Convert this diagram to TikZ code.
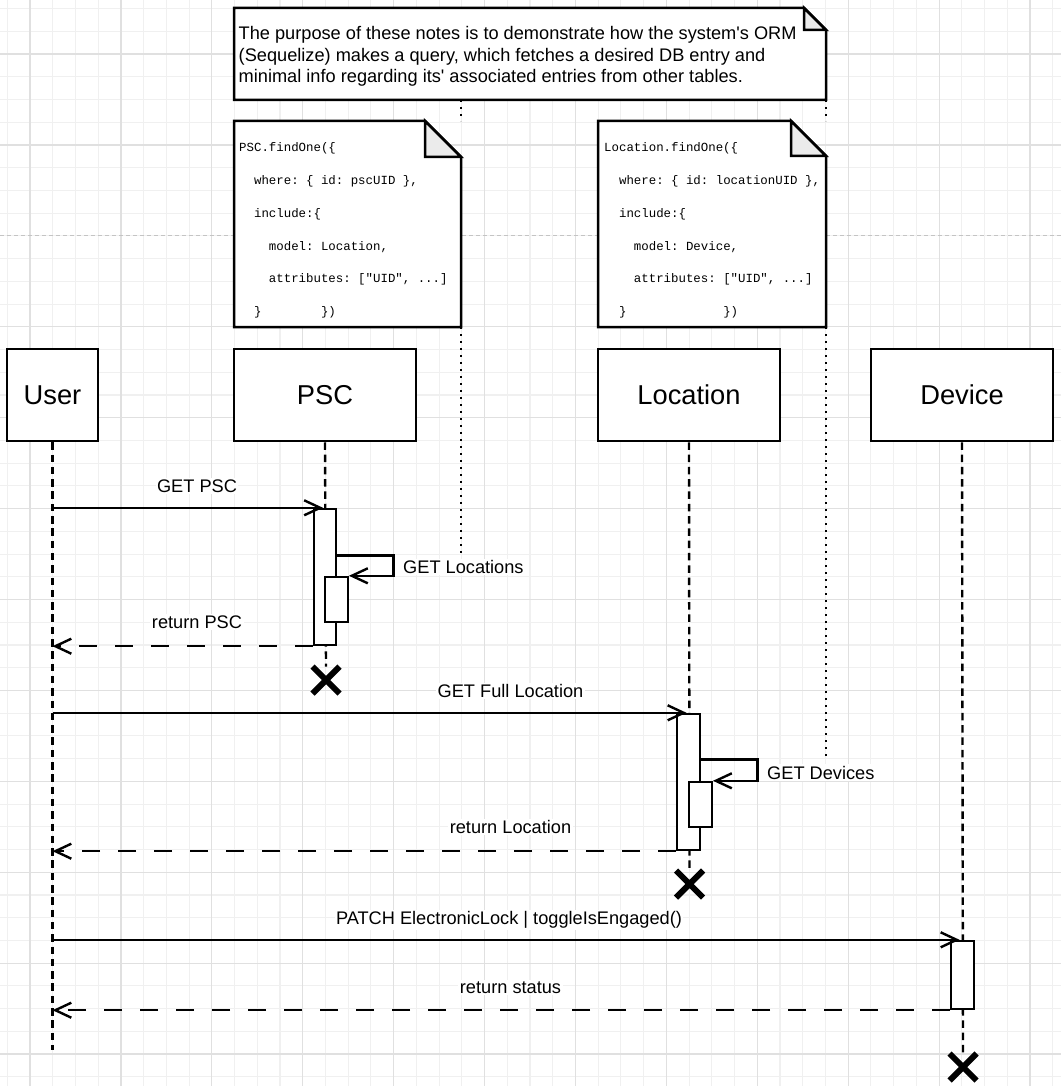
\documentclass[tikz,border=0pt]{standalone}
\usepackage{fontspec}
\newfontfamily\sansf{Liberation Sans}
\newfontfamily\codef{Liberation Mono}
\usetikzlibrary{arrows.meta,shapes.misc}
\definecolor{gminc}{HTML}{F0F0F0}
\definecolor{gmajc}{HTML}{E0E0E0}
\definecolor{gdashc}{HTML}{C4C4C4}
\definecolor{foldc}{HTML}{EBEBEB}
\newcommand\ind[1]{\hspace*{#1\fontcharwd\font`0}}
\begin{document}
\begin{tikzpicture}[x=1pt,y=-1pt,
  gminor/.style={draw=gminc,line width=1.1pt},
  gmajor/.style={draw=gmajc,line width=1.2pt},
  gdash/.style={draw=gdashc,line width=1.1pt,dash pattern=on 4pt off 3pt},
  lifebox/.style={draw,line width=2.5pt,fill=white,minimum width=182,minimum height=92,inner sep=0pt,font=\sansf\fontsize{27.3}{30}\selectfont},
  notebox/.style={draw=none,inner sep=0pt,outer sep=0pt},
  noteline/.style={draw,line width=2.5pt,fill=white,line join=miter},
  notetext/.style={inner sep=0pt,align=left,anchor=west,font=\sansf\frenchspacing\fontsize{18.2}{21.6}\selectfont},
  codetext/.style={inner sep=0pt,align=left,anchor=west,font=\codef\frenchspacing\fontsize{12.4}{32.8}\selectfont},
  notelink/.style={draw,line width=2.5pt,dash pattern=on 2.4pt off 4.6pt},
  lifeline/.style={draw,line width=2.4pt,dash pattern=on 7.5pt off 4.8pt},
  act/.style={draw,fill=white,line width=2.4pt,inner sep=0pt,minimum width=22.5},
  msg/.style={draw,line width=2.4pt,-{Straight Barb[length=16pt,width=15pt]}},
  ret/.style={msg,dash pattern=on 18pt off 18pt},
  lbl/.style={fill=white,inner sep=1.5pt,font=\sansf\fontsize{18.2}{21}\selectfont},
  destroy/.style={cross out,draw,line width=6pt,minimum size=21,inner sep=0pt}
]
\useasboundingbox (0,0) rectangle (1061,1086);
\fill[white] (0,0) rectangle (1061,1086);
% grid
\foreach \i in {0,...,46}{\draw[gminor] ({7.27+22.727*\i},0) -- ++(0,1086);}
\foreach \i in {0,...,47}{\draw[gminor] (0,{8.6+22.727*\i}) -- ++(1061,0);}
\foreach \i in {0,...,11}{\draw[gmajor] ({30+90.91*\i},0) -- ++(0,1086);}
\foreach \i in {0,1,3,4,...,11}{\draw[gmajor] (0,{54+90.91*\i}) -- ++(1061,0);}
\draw[gdash] (0,235.8) -- (1061,235.8);

% notes
\node[notebox,minimum width=592,minimum height=92] (topnote) at (530,54) {};
\draw[noteline] (topnote.north west) -- ([xshift=-22pt]topnote.north east) -- ([yshift=-22pt]topnote.north east) -- (topnote.south east) -- (topnote.south west) -- cycle;
\draw[noteline,fill=foldc] ([xshift=-22pt]topnote.north east) -- ([xshift=-22pt,yshift=-22pt]topnote.north east) -- ([yshift=-22pt]topnote.north east) -- cycle;
\node[notetext] (toptext) at (238.5,56.3) {The purpose of these notes is to demonstrate how the system's ORM\\(Sequelize) makes a query, which fetches a desired DB entry and\\minimal info regarding its' associated entries from other tables.};

\node[notebox,minimum width=227,minimum height=206] (pscnote) at (347.5,224) {};
\draw[noteline] (pscnote.north west) -- ([xshift=-36pt]pscnote.north east) -- ([yshift=-36pt]pscnote.north east) -- (pscnote.south east) -- (pscnote.south west) -- cycle;
\draw[noteline,fill=foldc] ([xshift=-36pt]pscnote.north east) -- ([xshift=-36pt,yshift=-36pt]pscnote.north east) -- ([yshift=-36pt]pscnote.north east) -- cycle;
\node[codetext] (psccode) at (239,230.4) {PSC.findOne(\{\\
\ind{2}where: \{ id: pscUID \},\\
\ind{2}include:\{\\
\ind{4}model: Location,\\
\ind{4}attributes: ["UID", ...]\\
\ind{2}\}\ind{8}\})};

\node[notebox,minimum width=228,minimum height=206] (locnote) at (712,224) {};
\draw[noteline] (locnote.north west) -- ([xshift=-35pt]locnote.north east) -- ([yshift=-35pt]locnote.north east) -- (locnote.south east) -- (locnote.south west) -- cycle;
\draw[noteline,fill=foldc] ([xshift=-35pt]locnote.north east) -- ([xshift=-35pt,yshift=-35pt]locnote.north east) -- ([yshift=-35pt]locnote.north east) -- cycle;
\node[codetext] (loccode) at (604,230.4) {Location.findOne(\{\\
\ind{2}where: \{ id: locationUID \},\\
\ind{2}include:\{\\
\ind{4}model: Device,\\
\ind{4}attributes: ["UID", ...]\\
\ind{2}\}\ind{13}\})};

% participants
\node[lifebox,minimum width=91] (user) at (52.5,395) {User};
\node[lifebox] (psc) at (325,395) {PSC};
\node[lifebox] (loc) at (689,395) {Location};
\node[lifebox] (dev) at (962,395) {Device};

\node[destroy] (pscx) at (326,680) {};
\node[destroy] (locx) at (689.5,884) {};
\node[destroy] (devx) at (963,1067) {};
\coordinate (userend) at (52.5,1050);

% lifelines
\draw[lifeline] (user.south) -- (userend);
\draw[lifeline] (psc.south) -- (pscx.north);
\draw[lifeline] (loc.south) -- (locx.north);
\draw[lifeline] (dev.south) -- (devx.north);

% self-call anchors
\coordinate (pscloop) at (393.5,555.5);
\coordinate (locloop) at (757.5,759.5);

% note links
\draw[notelink] (topnote.south -| pscnote.north east) -- (pscnote.north east);
\draw[notelink] (pscnote.south east) -- ([yshift=2pt]pscnote.south east |- pscloop);
\draw[notelink] (topnote.south east) -- (locnote.north east);
\draw[notelink] (locnote.south east) -- ([yshift=2pt]locnote.south east |- locloop);

% activations
\node[act,minimum height=136] (pscact) at (325,577) {};
\node[act,minimum height=45] (pscact2) at (336.5,599.5) {};
\node[act,minimum height=136] (locact) at (688.5,782) {};
\node[act,minimum height=45] (locact2) at (700.5,804.5) {};
\node[act,minimum height=68] (devact) at (962.5,975) {};

% messages
\draw[msg] (user.south |- pscact.north) -- ([xshift=-2pt]pscact.north);
\draw[msg] (pscact.east |- pscloop) -- (pscloop) |- (pscact2.north east);
\draw[ret] (pscact.south west) -- (user.south |- pscact.south);
\draw[msg] (user.south |- locact.north) -- ([xshift=-2pt]locact.north);
\draw[msg] (locact.east |- locloop) -- (locloop) |- (locact2.north east);
\draw[ret] (locact.south west) -- (user.south |- locact.south);
\draw[msg] (user.south |- devact.north) -- ([xshift=-3pt]devact.north);
\draw[ret] (devact.south west) -- (user.south |- devact.south);

% labels
\node[lbl,anchor=base] (m1) at (197,492.5) {GET PSC};
\node[lbl,anchor=base west] (m2) at (401.5,573.5) {GET Locations};
\node[lbl,anchor=base] (m3) at (197,628.5) {return PSC};
\node[lbl,anchor=base] (m4) at (510.5,697.5) {GET Full Location};
\node[lbl,anchor=base west] (m5) at (765.5,779) {GET Devices};
\node[lbl,anchor=base] (m6) at (510.5,833.5) {return Location};
\node[lbl,anchor=base] (m7) at (509,924.5) {PATCH ElectronicLock | toggleIsEngaged()};
\node[lbl,anchor=base] (m8) at (510.5,993.5) {return status};
\end{tikzpicture}
\end{document}
